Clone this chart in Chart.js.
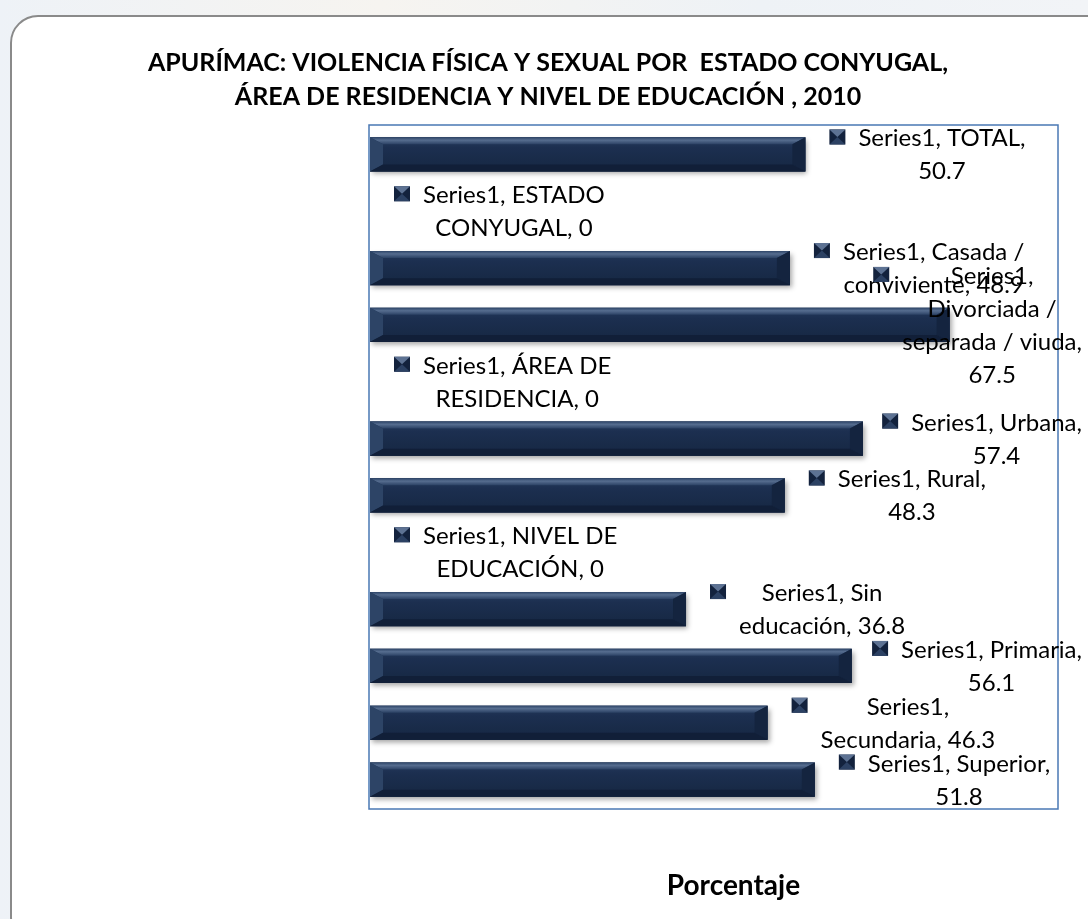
<!DOCTYPE html>
<html>
<head>
<meta charset="utf-8">
<script src="https://cdn.jsdelivr.net/npm/chart.js@4.4.1/dist/chart.umd.min.js"></script>
<style>
  html, body { margin: 0; padding: 0; }
  body {
    width: 1088px; height: 919px; overflow: hidden; position: relative;
    background: linear-gradient(90deg, #eef2f7 0%, #f6f4f0 35%, #eef2f6 70%, #f2f4f7 100%);
  }
  .card {
    position: absolute; left: 10px; top: 15px; width: 1110px; height: 930px;
    box-sizing: border-box; border: 2px solid #8a8a8a; border-radius: 28px; background: #fff;
  }
  .wrap { position: absolute; left: 0; top: 0; width: 1088px; height: 919px; }
</style>
</head>
<body>
<div class="card"></div>
<div class="wrap"><canvas id="violenciaBar" width="1088" height="919"></canvas></div>
<script>
  const categories = ["TOTAL", "ESTADO CONYUGAL", "Casada / conviviente", "Divorciada / separada / viuda",
    "ÁREA DE RESIDENCIA", "Urbana", "Rural", "NIVEL DE EDUCACIÓN", "Sin educación", "Primaria",
    "Secundaria", "Superior"];
  const porcentajes = [50.7, 0, 48.9, 67.5, 0, 57.4, 48.3, 0, 36.8, 56.1, 46.3, 51.8];
  const seriesName = "Series1";
  const xRange = [0, 80];
  const titleLines = ["APURÍMAC: VIOLENCIA FÍSICA Y SEXUAL POR  ESTADO CONYUGAL,",
    "ÁREA DE RESIDENCIA Y NIVEL DE EDUCACIÓN , 2010"];
  const axisTitle = "Porcentaje";

  // how many words go on each line of each data label (as Excel wrapped them)
  const wordsPerLine = [[2, 1], [2, 2], [3, 2], [1, 2, 3, 1], [3, 2], [2, 1], [2, 1], [3, 2], [2, 2], [2, 1], [1, 2], [2, 1]];

  const labelFont = "24px Lato";
  const labelLineH = 33;
  const labelCap = 17;
  const labelRightLimit = 1082;

  function splitLines(text, counts) {
    const words = text.split(" ");
    const lines = [];
    let k = 0;
    counts.forEach(n => { lines.push(words.slice(k, k + n).join(" ")); k += n; });
    return lines;
  }

  function drawKey(ctx, x, y, w, h) {
    ctx.fillStyle = "#13223d";
    ctx.fillRect(x, y, w, h);
    ctx.fillStyle = "#5d7293";
    ctx.beginPath(); ctx.moveTo(x, y); ctx.lineTo(x + w, y); ctx.lineTo(x + w / 2, y + h / 2); ctx.closePath(); ctx.fill();
    ctx.fillStyle = "#2c4163";
    ctx.beginPath(); ctx.moveTo(x, y + h); ctx.lineTo(x + w, y + h); ctx.lineTo(x + w / 2, y + h / 2); ctx.closePath(); ctx.fill();
  }

  function drawBevelBar(ctx, left, right, top, bottom) {
    const w = right - left;
    if (w < 2) return;
    const h = bottom - top, b = 7, e = 13;
    const g = ctx.createLinearGradient(0, top, 0, bottom);
    g.addColorStop(0, "#263c5e");
    g.addColorStop(0.3, "#1c2f50");
    g.addColorStop(0.85, "#172945");
    g.addColorStop(1, "#12213b");
    ctx.fillStyle = g;
    ctx.fillRect(left, top, w, h);
    // top bevel
    const gt = ctx.createLinearGradient(0, top, 0, top + b);
    gt.addColorStop(0, "#2e4568");
    gt.addColorStop(0.4, "#566d8f");
    gt.addColorStop(1, "#2b4164");
    ctx.fillStyle = gt;
    ctx.beginPath(); ctx.moveTo(left, top); ctx.lineTo(right, top); ctx.lineTo(right - e, top + b); ctx.lineTo(left + e, top + b); ctx.closePath(); ctx.fill();
    // left bevel
    ctx.fillStyle = "#2d4466";
    ctx.beginPath(); ctx.moveTo(left, top); ctx.lineTo(left + e, top + b); ctx.lineTo(left + e, bottom - b); ctx.lineTo(left, bottom); ctx.closePath(); ctx.fill();
    // right bevel
    ctx.fillStyle = "#14243f";
    ctx.beginPath(); ctx.moveTo(right, top); ctx.lineTo(right - e, top + b); ctx.lineTo(right - e, bottom - b); ctx.lineTo(right, bottom); ctx.closePath(); ctx.fill();
    // bottom bevel
    ctx.fillStyle = "#111f38";
    ctx.beginPath(); ctx.moveTo(left, bottom); ctx.lineTo(right, bottom); ctx.lineTo(right - e, bottom - b); ctx.lineTo(left + e, bottom - b); ctx.closePath(); ctx.fill();
  }

  const excelLook = {
    id: "excelLook",
    beforeDatasetsDraw(chart) {
      const ctx = chart.ctx;
      ctx.save();
      ctx.shadowColor = "rgba(0,0,0,0.35)";
      ctx.shadowBlur = 5;
      ctx.shadowOffsetX = 2;
      ctx.shadowOffsetY = 3;
    },
    afterDatasetsDraw(chart) {
      const ctx = chart.ctx;
      ctx.restore();
      const area = chart.chartArea;
      const meta = chart.getDatasetMeta(0);
      meta.data.forEach(bar => {
        const p = bar.getProps(["x", "y", "base", "height"], true);
        drawBevelBar(ctx, p.base, p.x, p.y - p.height / 2, p.y + p.height / 2);
      });
      // plot area border
      ctx.save();
      ctx.strokeStyle = "#4a78b4";
      ctx.lineWidth = 1.5;
      ctx.strokeRect(area.left - 1, area.top - 1, area.right - area.left + 2, area.bottom - area.top + 2);
      ctx.restore();
      // data labels: series name, category, value
      ctx.save();
      ctx.font = labelFont;
      ctx.textBaseline = "alphabetic";
      ctx.textAlign = "center";
      meta.data.forEach((bar, i) => {
        const lines = splitLines(`${seriesName}, ${categories[i]}, ${porcentajes[i]}`, wordsPerLine[i]);
        const widest = Math.max(...lines.map(l => ctx.measureText(l).width));
        let keyX = bar.x + 24;
        if (keyX + 29 + widest > labelRightLimit) keyX = labelRightLimit - 29 - widest;
        const centerX = keyX + 29 + widest / 2;
        const firstBase = bar.y - labelLineH * (lines.length - 1) / 2 + labelCap / 2;
        ctx.fillStyle = "#000";
        lines.forEach((l, k) => ctx.fillText(l, centerX, firstBase + k * labelLineH));
        drawKey(ctx, keyX, firstBase - labelCap, 16, 15);
      });
      ctx.restore();
    },
    afterDraw(chart) {
      const ctx = chart.ctx;
      ctx.save();
      ctx.fillStyle = "#000";
      ctx.textAlign = "center";
      ctx.textBaseline = "alphabetic";
      // chart title, centred on the card rather than the plot area
      ctx.font = "bold 25px Lato";
      titleLines.forEach((t, k) => ctx.fillText(t, 548, 71 + k * 34));
      // axis title
      ctx.font = "bold 28px Lato";
      const area = chart.chartArea;
      ctx.fillText(axisTitle, (area.left + area.right) / 2 + 20, area.bottom + 87);
      ctx.restore();
    }
  };

  new Chart(document.getElementById("violenciaBar"), {
    type: "bar",
    data: {
      labels: categories,
      datasets: [{
        label: seriesName,
        data: porcentajes,
        backgroundColor: "#1b2c4b",
        borderWidth: 0,
        barPercentage: 0.6,
        categoryPercentage: 1
      }]
    },
    options: {
      indexAxis: "y",
      responsive: false,
      animation: false,
      layout: { padding: { left: 370, right: 31, top: 126, bottom: 111 } },
      scales: {
        x: { display: false, min: xRange[0], max: xRange[1] },
        y: { display: false }
      },
      plugins: {
        legend: { display: false },
        tooltip: { enabled: false },
        title: { display: false }
      }
    },
    plugins: [excelLook]
  });
</script>
</body>
</html>
